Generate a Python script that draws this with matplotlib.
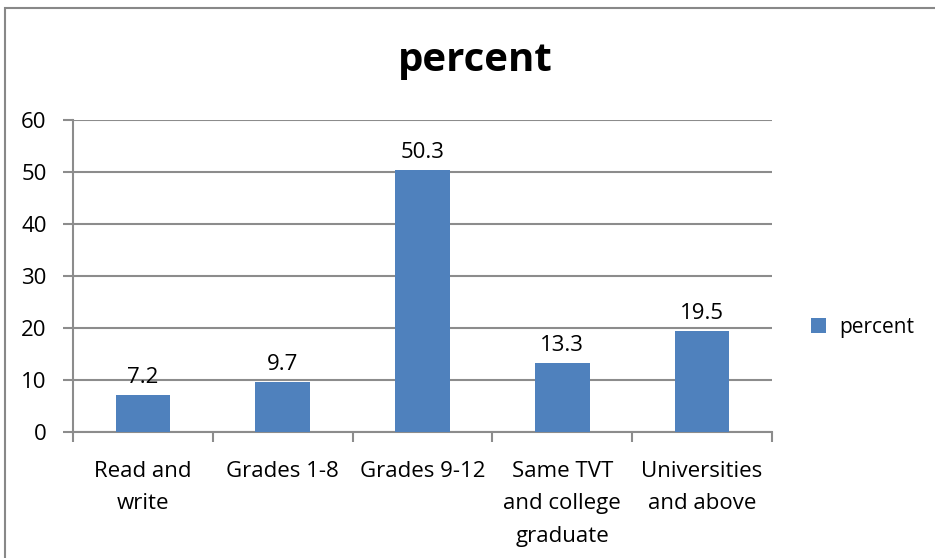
import matplotlib.pyplot as plt
from matplotlib.patches import Rectangle

plt.rcParams['font.family'] = ['Open Sans', 'DejaVu Sans']

categories = ['Read and\nwrite', 'Grades 1-8', 'Grades 9-12',
              'Same TVT\nand college\ngraduate', 'Universities\nand above']
percent = [7.2, 9.7, 50.3, 13.3, 19.5]

bar_color = '#4F81BD'
grid_color = '#8C8C8C'

fig = plt.figure(figsize=(9.35, 5.58), dpi=100)
# chart frame
fig.patches.append(Rectangle((5 / 935, -0.1), 1.1, 1.1 - 8 / 558,
                             transform=fig.transFigure, fill=False,
                             edgecolor='#888888', linewidth=1.5))

ax = fig.add_axes([73 / 935, 1 - 432 / 558, (772 - 73) / 935, (432 - 120) / 558])

x = list(range(len(categories)))
bars = ax.bar(x, percent, width=0.39, color=bar_color, label='percent', zorder=3)
for xi, v in zip(x, percent):
    ax.annotate(f'{v}', (xi, v), xytext=(0, 5), textcoords='offset points',
                ha='center', va='bottom', fontsize=16)

ax.set_xlim(-0.5, len(categories) - 0.5)
ax.set_ylim(0, 60)
ax.set_yticks(range(0, 61, 10))
ax.set_yticklabels([str(t) for t in range(0, 61, 10)], fontsize=16)
ax.yaxis.grid(True, color=grid_color, linewidth=1.5, zorder=0)

ax.set_xticks(x)
ax.set_xticklabels(categories, fontsize=16, linespacing=1.7)
ax.set_xticks([i - 0.5 for i in range(len(categories) + 1)], minor=True)
ax.tick_params(axis='x', which='major', length=0, pad=21)
ax.tick_params(axis='x', which='minor', length=7, color=grid_color, width=1.5)
ax.tick_params(axis='y', length=7, color=grid_color, width=1.5, pad=12)

for side in ['top', 'right']:
    ax.spines[side].set_visible(False)
for side in ['left', 'bottom']:
    ax.spines[side].set_color(grid_color)
    ax.spines[side].set_linewidth(1.5)

fig.text(475 / 935, 1 - 60 / 558, 'percent', ha='center', va='center',
         fontsize=29, fontweight='bold')

fig.legend(handles=[bars], labels=['percent'], loc='center left',
           bbox_to_anchor=(792 / 935, 1 - 327 / 558), frameon=False,
           fontsize=15, handlelength=0.75, handleheight=0.75, handletextpad=0.6)

fig.savefig('out.png', dpi=100)
